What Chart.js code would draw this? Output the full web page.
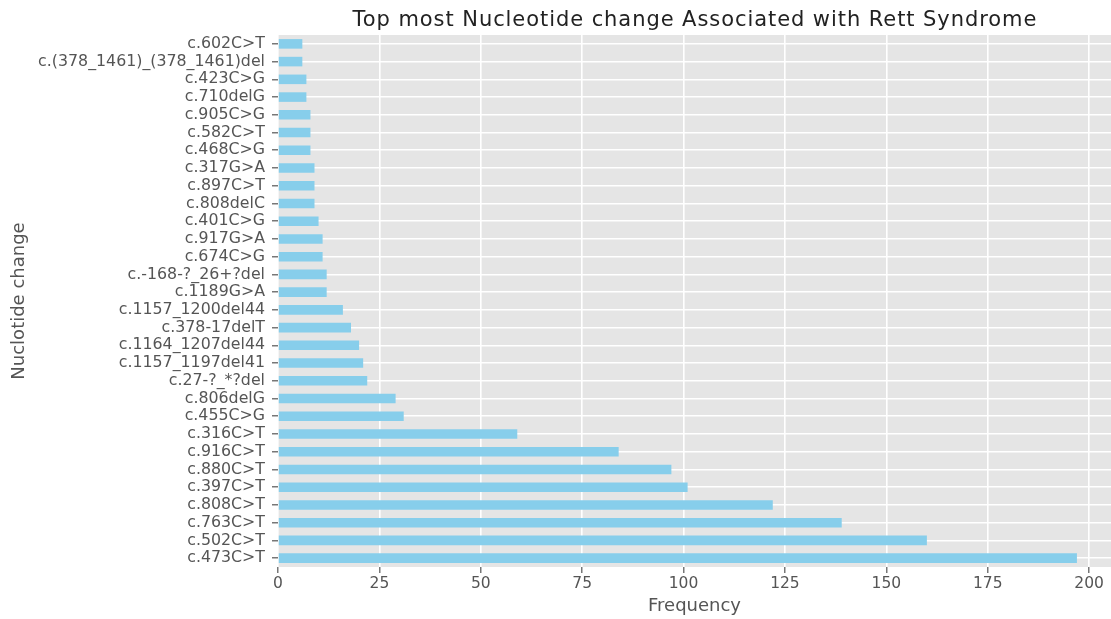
<!DOCTYPE html>
<html>
<head>
<meta charset="utf-8">
<script src="https://cdn.jsdelivr.net/npm/chart.js@4/dist/chart.umd.min.js"></script>
<style>
  html, body { margin: 0; padding: 0; background: #ffffff; }
  #wrap { width: 1111px; height: 619px; position: relative; }
</style>
</head>
<body>
<div id="wrap"><canvas id="c" width="1111" height="619"></canvas></div>
<script>
const chartTitle = "Top most Nucleotide change Associated with Rett Syndrome";
const xTitle = "Frequency";
const yTitle = "Nuclotide change";
const categories = [
  "c.602C>T", "c.(378_1461)_(378_1461)del", "c.423C>G", "c.710delG", "c.905C>G",
  "c.582C>T", "c.468C>G", "c.317G>A", "c.897C>T", "c.808delC",
  "c.401C>G", "c.917G>A", "c.674C>G", "c.-168-?_26+?del", "c.1189G>A",
  "c.1157_1200del44", "c.378-17delT", "c.1164_1207del44", "c.1157_1197del41", "c.27-?_*?del",
  "c.806delG", "c.455C>G", "c.316C>T", "c.916C>T", "c.880C>T",
  "c.397C>T", "c.808C>T", "c.763C>T", "c.502C>T", "c.473C>T"
];
const frequency = [
  6, 6, 7, 7, 8,
  8, 8, 9, 9, 9,
  10, 11, 11, 12, 12,
  16, 18, 20, 21, 22,
  29, 31, 59, 84, 97,
  101, 122, 139, 160, 197
];
const xTicks = [0, 25, 50, 75, 100, 125, 150, 175, 200];

const FONT = "'DejaVu Sans', sans-serif";

const bgPlugin = {
  id: 'plotBg',
  beforeDraw(chart) {
    const {ctx, chartArea: a} = chart;
    ctx.save();
    ctx.fillStyle = '#E5E5E5';
    ctx.fillRect(a.left, a.top, a.right - a.left, a.bottom - a.top);
    ctx.restore();
  },
  afterDraw(chart) {
    const {ctx, chartArea: a} = chart;
    ctx.save();
    ctx.font = "21px " + FONT;
    ctx.fillStyle = '#222222';
    ctx.textAlign = 'center';
    ctx.textBaseline = 'alphabetic';
    const w = ctx.measureText(chartTitle).width;
    const target = 684;
    const sp = Math.max(0, (target - w) / (chartTitle.length - 1));
    if ('letterSpacing' in ctx) {
      ctx.letterSpacing = sp.toFixed(2) + 'px';
      ctx.fillText(chartTitle, (a.left + a.right) / 2 + sp / 2, 26);
    } else {
      ctx.fillText(chartTitle, (a.left + a.right) / 2, 26);
    }
    ctx.restore();
  }
};

new Chart(document.getElementById('c'), {
  type: 'bar',
  data: {
    labels: categories,
    datasets: [{
      label: xTitle,
      data: frequency,
      backgroundColor: '#87CEEB',
      borderWidth: 0,
      barPercentage: 0.54,
      categoryPercentage: 1.0
    }]
  },
  options: {
    indexAxis: 'y',
    responsive: false,
    animation: false,
    layout: { padding: { top: 35, left: 0, right: 0, bottom: 0 } },
    plugins: {
      legend: { display: false },
      title: { display: false },
      tooltip: { enabled: false }
    },
    scales: {
      x: {
        type: 'linear',
        min: 0,
        max: 205.4,
        afterFit(scale) { scale.height = 52; },
        afterBuildTicks(scale) { scale.ticks = xTicks.map(v => ({ value: v })); },
        ticks: {
          stepSize: 25,
          includeBounds: false,
          color: '#555555',
          font: { family: FONT, size: 15.5 },
          padding: 1.5,
          maxRotation: 0
        },
        grid: {
          color: '#FFFFFF',
          lineWidth: 1.6,
          drawTicks: true,
          tickLength: 6,
          tickColor: '#555555',
          tickWidth: 1.2
        },
        border: { display: false },
        title: {
          display: true,
          text: xTitle,
          color: '#555555',
          font: { family: FONT, size: 18 },
          padding: { top: 0, bottom: 2 }
        }
      },
      y: {
        type: 'category',
        afterFit(scale) { scale.width = 278; },
        ticks: {
          color: '#555555',
          font: { family: FONT, size: 15.8 },
          padding: 7,
          autoSkip: false
        },
        grid: {
          offset: false,
          color: '#FFFFFF',
          lineWidth: 1.6,
          drawTicks: true,
          tickLength: 6,
          tickColor: '#555555',
          tickWidth: 1.2
        },
        border: { display: false },
        title: {
          display: true,
          text: yTitle,
          color: '#555555',
          font: { family: FONT, size: 18 },
          padding: { top: 8.7, bottom: 0 }
        }
      }
    }
  },
  plugins: [bgPlugin]
});
</script>
</body>
</html>
